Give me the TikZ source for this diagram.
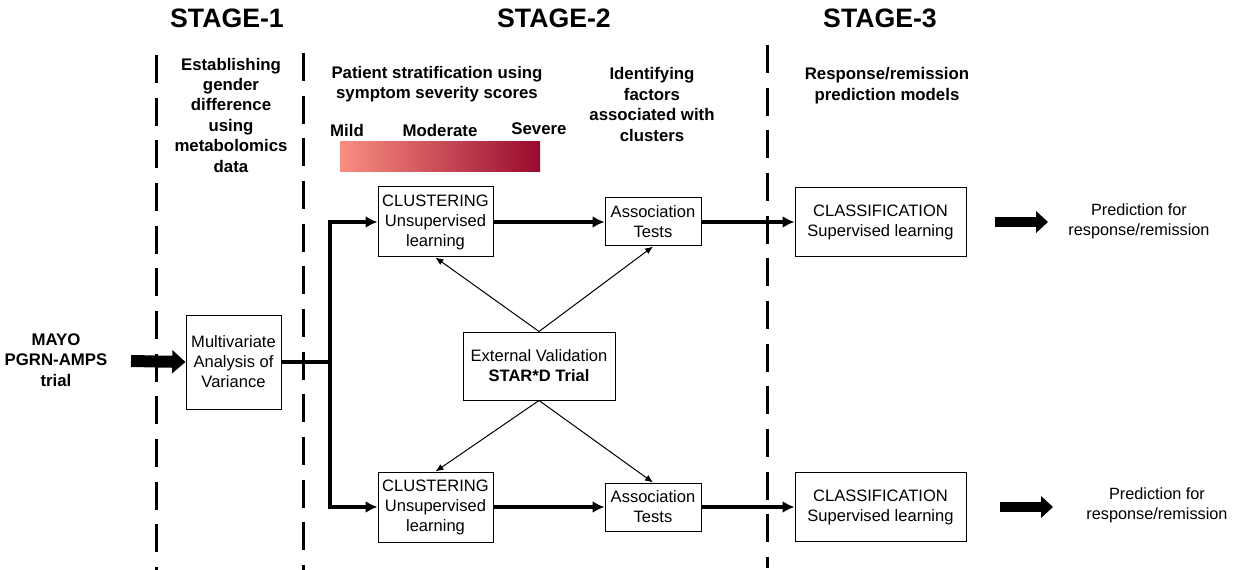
\documentclass[tikz,border=0pt]{standalone}
\usepackage{fontspec}
\setmainfont{Liberation Sans}
\usetikzlibrary{arrows.meta}

\definecolor{sevLow}{RGB}{250,142,128}
\definecolor{sevHigh}{RGB}{152,10,46}

\tikzset{every picture/.style={line width=0.75pt}}
\tikzset{
  box/.style={draw, fill=white, align=center, inner sep=0pt, font=\fontsize{12.4}{15}\selectfont},
  stagehead/.style={font=\fontsize{20}{24}\selectfont\bfseries},
  note/.style={align=center, font=\fontsize{12.6}{15.3}\selectfont\bfseries},
  plain/.style={align=center, font=\fontsize{12.2}{15}\selectfont},
  stagesep/.style={line width=2.25pt, dash pattern=on 21pt off 11pt},
  flow/.style={line width=3pt, -{Latex[length=9pt,width=9pt]}},
  valid/.style={line width=0.75pt, -{Latex[length=6pt,width=5pt]}},
  fatarrow/.style={line width=7.5pt, -{Triangle[length=9pt,width=16pt]}},
}

\begin{document}
\begin{tikzpicture}[x=0.75pt,y=0.75pt,yscale=-1,xscale=1]
\useasboundingbox (0,0) rectangle (1234,570);

%Straight Lines (stage borders)
\draw [stagesep] (156,55) -- (156,570) ;
\draw [stagesep] (303,53) -- (303,570) ;
\draw [stagesep] (767,45) -- (767,568) ;

% Text Node
\node (stageA) at (227,18) [stagehead] {STAGE-1};
% Text Node
\node (stageB) at (554,18) [stagehead] {STAGE-2};
% Text Node
\node (stageC) at (880,18) [stagehead] {STAGE-3};

% Text Node
\node (gender) at (231,115) [note] {Establishing\\gender\\difference\\using\\metabolomics\\data};
% Text Node
\node (strat) at (437,84) [note] {Patient stratification using\\symptom severity scores};
% Text Node
\node (mild) at (347,130) [note] {Mild};
% Text Node
\node (moderate) at (440,130) [note] {Moderate};
% Text Node
\node (severe) at (539,129) [note] {Severe};
% Text Node
\node (factors) at (652,104.5) [note] {Identifying\\factors\\associated with\\clusters};
% Text Node
\node (models) at (887,85.5) [note] {Response/remission\\prediction models};

%Shape: Rectangle (severity scale)
\shade [left color=sevLow, right color=sevHigh] (340,142) rectangle (540,172) ;

% Text Node
\node (mayo) at (56,360) [note] {MAYO\\PGRN-AMPS\\trial};

%Shape: Rectangle
\node (manova) at (233.5,362) [box, minimum width=71.25pt, minimum height=70.5pt] {Multivariate\\Analysis of\\Variance};
%Shape: Rectangle
\node (clustA) at (435.5,222) [box, minimum width=86.25pt, minimum height=52.5pt] {CLUSTERING\\Unsupervised\\learning};
%Shape: Rectangle
\node (assocA) at (653,222) [box, minimum width=72pt, minimum height=36pt] {Association\\Tests};
%Shape: Rectangle
\node (extval) at (539,366) [box, minimum width=114pt, minimum height=51pt] {External Validation\\\textbf{STAR*D Trial}};
%Shape: Rectangle
\node (clustB) at (435.5,507) [box, minimum width=86.25pt, minimum height=52.5pt] {CLUSTERING\\Unsupervised\\learning};
%Shape: Rectangle
\node (assocB) at (653,507) [box, minimum width=72pt, minimum height=36pt] {Association\\Tests};
%Shape: Rectangle
\node (classA) at (880.5,222.5) [box, minimum width=128.25pt, minimum height=51.75pt] {CLASSIFICATION\\Supervised learning};
%Shape: Rectangle
\node (classB) at (880.5,507) [box, minimum width=128.25pt, minimum height=51.75pt] {CLASSIFICATION\\Supervised learning};

% Text Node
\node (predA) at (1139,221) [plain] {Prediction for\\response/remission};
% Text Node
\node (predB) at (1157,505) [plain] {Prediction for\\response/remission};

\coordinate (split) at (330,362);
\coordinate (mayoOut) at (131,361);
\coordinate (outA) at (995,222);
\coordinate (outAtip) at (1048,222);
\coordinate (outB) at (1000,507);
\coordinate (outBtip) at (1053,507);

%Straight Lines
\draw [line width=3pt] (manova.east) -- (split) ;
\draw [flow] (split) |- (clustA.west) ;
\draw [flow] (split) |- (clustB.west) ;
\draw [flow] (clustA) -- (assocA) ;
\draw [flow] (assocA) -- (classA.west |- assocA) ;
\draw [flow] (clustB) -- (assocB) ;
\draw [flow] (assocB.east) -- (classB.west) ;

%Straight Lines (validation)
\draw [valid] (extval.north) -- (clustA.south) ;
\draw [valid] (extval.north) -- (assocA.south) ;
\draw [valid] (extval.south) -- (clustB.north) ;
\draw [valid] (extval.south) -- (assocB.north) ;

%Block Arrows
\draw [fatarrow, line width=9pt, -{Triangle[length=10pt,width=17pt]}] (mayoOut) -- (manova.west) ;
\draw [fatarrow] (outA) -- (outAtip) ;
\draw [fatarrow] (outB) -- (outBtip) ;

\end{tikzpicture}
\end{document}
